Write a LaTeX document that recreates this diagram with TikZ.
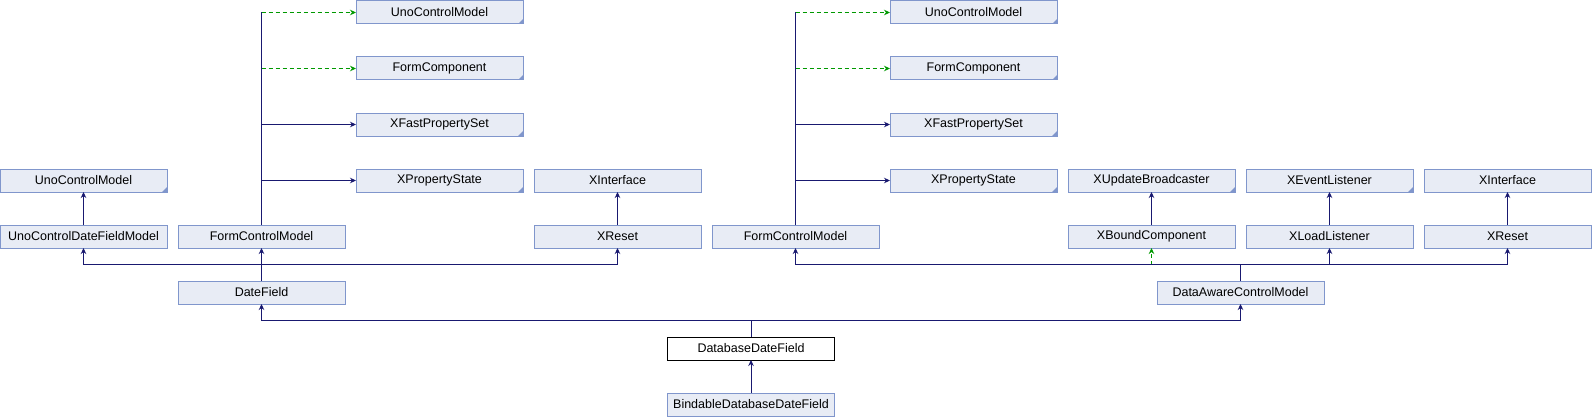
\documentclass[tikz,border=0pt]{standalone}
\usepackage{fontspec}
\setmainfont{Liberation Sans}
\usepackage{tikz}
\usetikzlibrary{arrows.meta,positioning,calc}
\definecolor{boxfill}{RGB}{232,236,245}
\definecolor{boxline}{RGB}{128,150,204}
\definecolor{edgeblue}{RGB}{25,25,112}
\definecolor{edgegreen}{RGB}{0,153,0}

\begin{document}
\begin{tikzpicture}[x=1pt, y=1pt, node distance=33pt and 11pt,
    cls/.style={rectangle, draw=boxline, fill=boxfill, line width=1pt, minimum width=167pt, minimum height=23pt, inner sep=0pt, outer sep=0pt, font=\fontsize{12.5}{14}\selectfont},
    ext/.style={cls, path picture={\fill[boxline] (path picture bounding box.south east) -- ++(-5pt,0) -- ++(5pt,5pt) -- cycle;}},
    self/.style={cls, draw=black, fill=white},
    trunk/.style={draw=edgeblue, line width=1pt},
    inh/.style={trunk, -{Stealth[length=6pt,width=5.5pt]}},
    use/.style={inh, draw=edgegreen, dash pattern=on 4pt off 3pt}]

    \useasboundingbox (0,0) rectangle (1592,416);

    \node[ext] (ucm1) at (439.5,403.5) {UnoControlModel};
    \node[ext, below=of ucm1] (fc1) {FormComponent};
    \node[ext, below=of fc1] (xfps1) {XFastPropertySet};
    \node[ext, below=of xfps1] (xps1) {XPropertyState};
    \node[cls, right=of xps1] (xif1) {XInterface};
    \node[cls, below=of xif1] (xr1) {XReset};
    \node[cls, right=of xr1] (fcm2) {FormControlModel};
    \node[ext] (ucm) at (83.5,235.5) {UnoControlModel};
    \node[cls, below=of ucm] (ucdfm) {UnoControlDateFieldModel};
    \node[cls, right=of ucdfm] (fcm1) {FormControlModel};
    \node[cls, below=of fcm1] (df) {DateField};

    \node[ext] (ucm2) at (973.5,403.5) {UnoControlModel};
    \node[ext, below=of ucm2] (fc2) {FormComponent};
    \node[ext, below=of fc2] (xfps2) {XFastPropertySet};
    \node[ext, below=of xfps2] (xps2) {XPropertyState};
    \node[ext, right=of xps2] (xub) {XUpdateBroadcaster};
    \node[ext, right=of xub] (xel) {XEventListener};
    \node[cls, right=of xel] (xif2) {XInterface};
    \node[cls, below=of xub] (xbc) {XBoundComponent};
    \node[cls, below=of xel] (xll) {XLoadListener};
    \node[cls, below=of xif2] (xr2) {XReset};
    \node[cls] (dacm) at (1240.5,123.5) {DataAwareControlModel};
    \node[self] (ddf) at (751,67.5) {DatabaseDateField};
    \node[cls, below=of ddf] (bddf) {BindableDatabaseDateField};

    \foreach \k in {1,2} {
        \draw[trunk] (fcm\k) -- (fcm\k |- ucm\k);
        \foreach \t/\s in {ucm/use, fc/use, xfps/inh, xps/inh}
            \draw[\s] (fcm\k |- \t\k) -- (\t\k);
    }

    \coordinate (b1) at ($(df.north)+(0,16.5)$);
    \draw[inh] (ucdfm) -- (ucm);
    \draw[inh] (xr1) -- (xif1);
    \draw[inh] (df) -- (fcm1);
    \draw[inh] (b1) -| (ucdfm);
    \draw[inh] (b1) -| (xr1);

    \coordinate (b2) at ($(dacm.north)+(0,16.5)$);
    \draw[trunk] (dacm) -- (b2);
    \draw[use] (xbc |- b2) -- (xbc);
    \draw[inh] (b2) -| (fcm2);
    \draw[inh] (b2) -| (xll);
    \draw[inh] (b2) -| (xr2);
    \draw[inh] (xbc) -- (xub);
    \draw[inh] (xll) -- (xel);
    \draw[inh] (xr2) -- (xif2);

    \coordinate (b3) at ($(ddf.north)+(0,16.5)$);
    \draw[trunk] (ddf) -- (b3);
    \draw[inh] (b3) -| (df);
    \draw[inh] (b3) -| (dacm);
    \draw[inh] (bddf) -- (ddf);
\end{tikzpicture}
\end{document}
